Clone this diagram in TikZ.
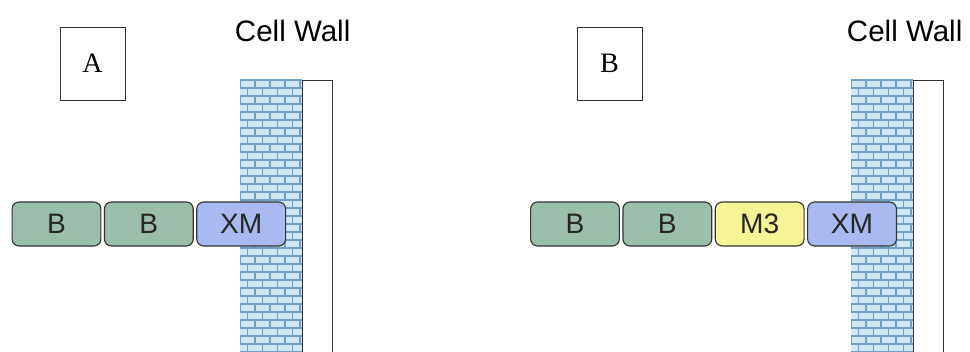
\documentclass[tikz,border=0pt]{standalone}
\usepackage{fontspec}
\setmainfont{Liberation Serif}
\setsansfont{Liberation Sans}
\usetikzlibrary{positioning}

% Colori dei domini
\definecolor{colB}{RGB}{155,190,170}
\definecolor{colXM}{RGB}{168,186,240}
\definecolor{colMthree}{RGB}{245,245,150}
\definecolor{brickfill}{RGB}{208,232,246}
\definecolor{brickline}{RGB}{110,160,200}

\tikzset{
  part/.style={draw=black!80, line width=0.8pt, rounded corners=5pt,
    minimum width=2.22cm, minimum height=1.1cm, inner sep=0pt, text=black!85,
    font=\sffamily\fontsize{20}{20}\selectfont},
  panel/.style={draw=black!80, minimum width=1.62cm, minimum height=1.82cm,
    inner sep=0pt, font=\fontsize{20}{20}\selectfont},
  walltitle/.style={anchor=base west, font=\sffamily\fontsize{21}{21}\selectfont},
}

% Parete cellulare: mattoni + strato bianco (#1 = bordo sinistro)
\newcommand{\cellwall}[1]{%
  \begin{scope}
    \clip (#1,80) rectangle (#1+62,352);
    \fill[brickfill] (#1,80) rectangle (#1+62,352);
    \foreach \r in {0,...,34} {
      \pgfmathsetmacro{\yy}{80+8*\r}
      \pgfmathsetmacro{\off}{mod(\r,2)*7.5}
      \draw[brickline, line width=0.8pt] (#1,\yy) -- (#1+62,\yy);
      \foreach \c in {0,...,4}
        \draw[brickline, line width=0.8pt] (#1+\off+15*\c,\yy) -- (#1+\off+15*\c,\yy+8);
    }
  \end{scope}
  \draw[black!80] (#1+62,80) rectangle (#1+92,352);
}

\begin{document}
\begin{tikzpicture}[x=0.025cm, y=-0.025cm]
    \useasboundingbox (0,0) rectangle (970,352);

    % Pannello A
    \node[panel] (panA) at (92.5,63.5) {A};
    \node[walltitle] (wallA) at (230,42) {Cell Wall};
    \cellwall{240}
    \node[part, fill=colB] (bA1) at (56.5,224) {B};
    \node[part, fill=colB, right=0.06cm of bA1] (bA2) {B};
    \node[part, fill=colXM, right=0.06cm of bA2] (xmA) {XM};

    % Pannello B
    \node[panel] (panB) at (609.5,63.5) {B};
    \node[walltitle] (wallB) at (842,42) {Cell Wall};
    \cellwall{851}
    \node[part, fill=colB] (bB1) at (575,224) {B};
    \node[part, fill=colB, right=0.06cm of bB1] (bB2) {B};
    \node[part, fill=colMthree, right=0.06cm of bB2] (mB) {M3};
    \node[part, fill=colXM, right=0.06cm of mB] (xmB) {XM};

\end{tikzpicture}
\end{document}
